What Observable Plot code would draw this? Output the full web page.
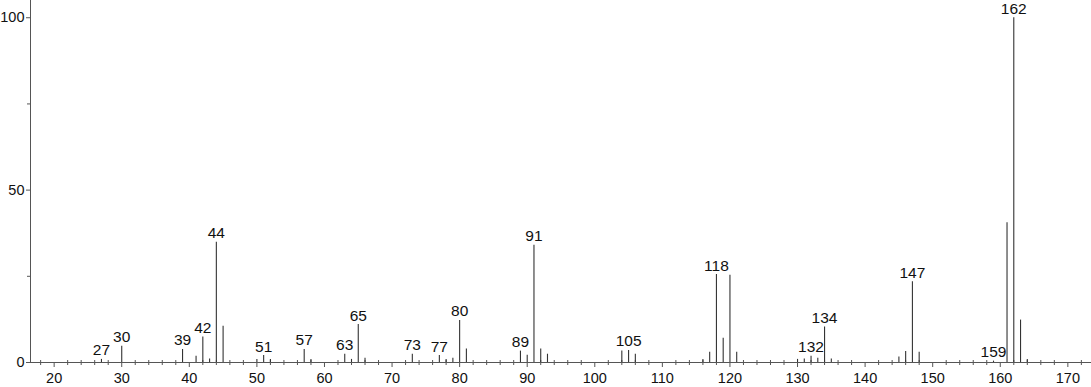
<!DOCTYPE html>
<html>
<head>
<meta charset="utf-8">
<script src="https://cdn.jsdelivr.net/npm/d3@7"></script>
<script src="https://cdn.jsdelivr.net/npm/@observablehq/plot@0.6"></script>
<style>
  html, body { margin: 0; padding: 0; background: #fff; }
  #chart svg { display: block; }
</style>
</head>
<body>
<div id="chart"></div>
<script>
// m/z values and relative intensities
const mz = [27, 30, 39, 41, 42, 43, 44, 45, 50, 51, 52, 57, 58, 63, 64, 65, 66,
  73, 77, 78, 79, 80, 81, 89, 90, 91, 92, 93, 104, 105, 106, 116, 117, 118, 119,
  120, 121, 130, 131, 132, 133, 134, 135, 145, 146, 147, 148, 159, 161, 162, 163, 164];
const intensity = [0.9, 4.7, 3.8, 1.8, 7.4, 1.0, 34.9, 10.5, 0.9, 2.0, 0.9, 3.8, 0.9, 2.4, 0.9, 11.0, 1.2,
  2.4, 2.0, 0.9, 1.2, 12.2, 3.9, 3.3, 2.1, 34.0, 3.9, 2.4, 3.3, 3.5, 2.4, 0.9, 3.0, 25.5, 7.0,
  25.3, 3.0, 0.9, 1.0, 1.8, 1.2, 10.3, 1.0, 1.6, 3.2, 23.4, 3.0, 0.4, 40.5, 100, 12.3, 0.9];
const labeled = [27, 30, 39, 42, 44, 51, 57, 63, 65, 73, 77, 80, 89, 91, 105, 118, 132, 134, 147, 159, 162];
const majorTicksX = [20, 30, 40, 50, 60, 70, 80, 90, 100, 110, 120, 130, 140, 150, 160, 170];
const minorTicksX = [18, 22, 24, 26, 28, 32, 34, 36, 38, 42, 44, 46, 48, 52, 54, 56, 58, 62, 64, 66, 68,
  72, 74, 76, 78, 82, 84, 86, 88, 92, 94, 96, 98, 102, 104, 106, 108, 112, 114, 116, 118,
  122, 124, 126, 128, 132, 134, 136, 138, 142, 144, 146, 148, 152, 154, 156, 158, 162, 164, 166, 168, 172];
const majorTicksY = [0, 50, 100];
const minorTicksY = [25, 75];

const peaks = mz.map((m, i) => ({mz: m, intensity: intensity[i]}));
const labelPeaks = peaks.filter(d => labeled.includes(d.mz));
const xDomain = [16.5, 173.5];

const axisColor = "#555";
const chart = Plot.plot({
  width: 1091,
  height: 387,
  marginLeft: 30,
  marginRight: 0,
  marginTop: 0,
  marginBottom: 25,
  style: {fontFamily: "'Liberation Sans', Arial, Helvetica, sans-serif", fontSize: "14px", color: "#111", background: "#fff"},
  x: {domain: xDomain, label: null},
  y: {domain: [0, 105], label: null},
  marks: [
    Plot.axisX({ticks: majorTicksX, tickSize: 5, tickPadding: 5, stroke: axisColor, fill: "#111", fontSize: 14.5, label: null}),
    Plot.axisX({ticks: minorTicksX, tickSize: 5, dy: -2, tickFormat: () => "", stroke: axisColor, label: null}),
    Plot.axisY({ticks: majorTicksY, tickSize: 4, tickPadding: 2, stroke: axisColor, fill: "#111", fontSize: 14.5, label: null}),
    Plot.axisY({ticks: minorTicksY, tickSize: 3, tickFormat: () => "", stroke: axisColor, label: null}),
    Plot.ruleY([0], {stroke: axisColor}),
    Plot.ruleX([xDomain[0]], {stroke: axisColor, y1: 0, y2: 105}),
    Plot.ruleX(peaks, {x: "mz", y1: 0, y2: "intensity", stroke: "#333", strokeWidth: 1.1}),
    Plot.text(labelPeaks, {x: "mz", y: "intensity", text: d => String(d.mz), dy: -9, fontSize: 15.5, fill: "#111"})
  ]
});
document.getElementById("chart").append(chart);
</script>
</body>
</html>
